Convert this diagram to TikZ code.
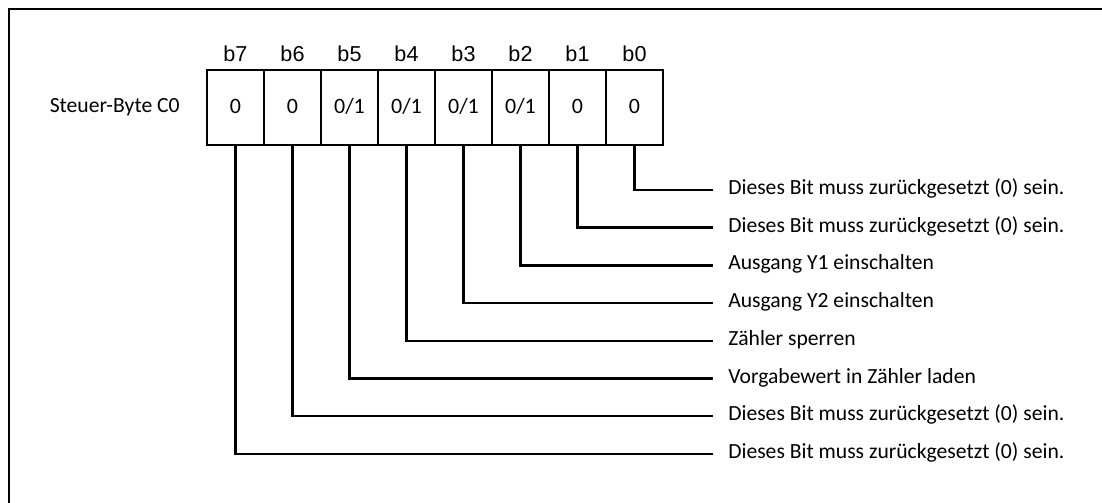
\documentclass[tikz,border=0pt]{standalone}
\usepackage{fontspec}
\setmainfont{Carlito}
\newfontfamily\bitfont{Liberation Sans}

\begin{document}
\begin{tikzpicture}[x=0.02cm,y=-0.02cm,
	  cell/.style={draw,line width=1.3pt,minimum width=1.14cm,minimum height=1.5cm,inner sep=0pt,
	    text height=0.63em,text depth=0pt,font=\fontsize{12.5}{14}\selectfont},
	  bitlbl/.style={anchor=base,font=\bitfont\fontsize{12.3}{14}\selectfont},
	  desc/.style={anchor=west,inner xsep=8.5pt,inner ysep=0pt,text height=0.62em,text depth=0.1em,
	    font=\fontsize{12.3}{14}\selectfont},
	  wire/.style={line width=1.4pt}]
	  \useasboundingbox (0,0) rectangle (1102,503);
	  % frame (only top and left edge visible)
	  \draw[line width=1.6pt] (9,503) -- (9,9) -- (1102,9);
	  \node[anchor=base east,inner sep=0pt,font=\fontsize{12.3}{14}\selectfont] (name) at (180,113) {Steuer-Byte C0};
	  % byte cells
	  \foreach \b/\v [count=\i from 0] in {7/0,6/0,5/{0/1},4/{0/1},3/{0/1},2/{0/1},1/0,0/0} {
	    \node[cell] (c\b) at ({235.5+57*\i},107.5) {\v};
	    \node[bitlbl] (l\b) at ({235.5+57*\i},62) {b\b};
	  }
	  % descriptions
	  \foreach \b/\t in {0/Dieses Bit muss zurückgesetzt (0) sein.,
	                     1/Dieses Bit muss zurückgesetzt (0) sein.,
	                     2/Ausgang Y1 einschalten,
	                     3/Ausgang Y2 einschalten,
	                     4/Zähler sperren,
	                     5/Vorgabewert in Zähler laden,
	                     6/Dieses Bit muss zurückgesetzt (0) sein.,
	                     7/Dieses Bit muss zurückgesetzt (0) sein.} {
	    \node[desc] (t\b) at (713,{190+37.7*\b}) {\t};
	    \draw[wire] (c\b.south) |- (t\b.west);
	  }
	\end{tikzpicture}
\end{document}
